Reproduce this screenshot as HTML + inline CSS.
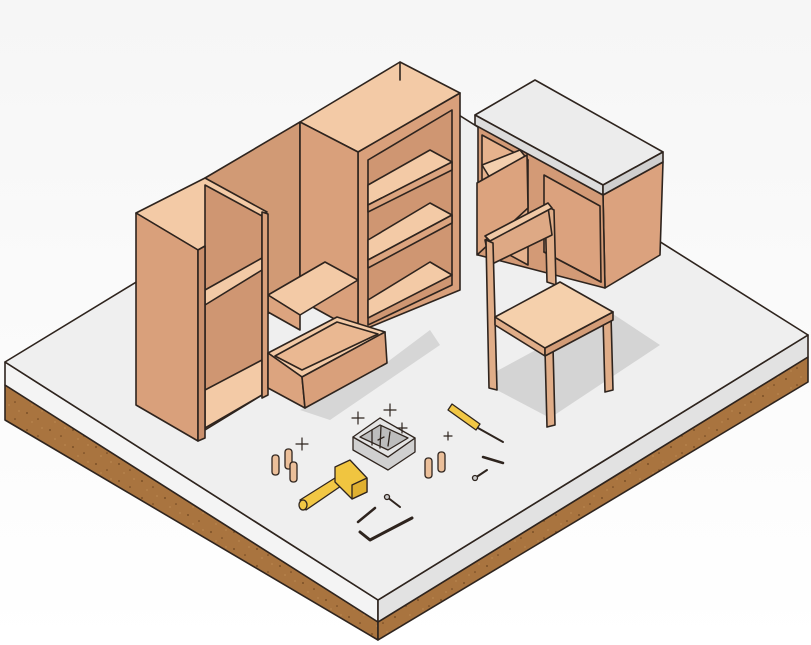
<!DOCTYPE html>
<html><head><meta charset="utf-8"><style>
html,body{margin:0;padding:0;background:#fff;}
svg{display:block}
</style></head><body>
<svg width="811" height="645" viewBox="0 0 811 645" xmlns="http://www.w3.org/2000/svg" stroke="#2e241e" stroke-width="1.6" stroke-linejoin="round" stroke-linecap="round">
<defs>
<linearGradient id="bg" x1="0" y1="0" x2="0" y2="1"><stop offset="0" stop-color="#f6f6f6"/><stop offset="1" stop-color="#ffffff"/></linearGradient>
<pattern id="dots" width="23" height="17" patternUnits="userSpaceOnUse">
<rect width="23" height="17" fill="#a9743f" stroke="none"/>
<circle cx="4" cy="5" r="0.9" fill="#6e4520" stroke="none"/>
<circle cx="15" cy="11" r="0.8" fill="#6e4520" stroke="none"/>
<circle cx="19" cy="3" r="0.6" fill="#c9975f" stroke="none"/>
<circle cx="9" cy="14" r="0.6" fill="#c9975f" stroke="none"/>
</pattern>
</defs>
<rect width="811" height="645" fill="url(#bg)" stroke="none"/>
<!-- platform -->
<polygon points="5,385 378,622 378,640 5,420" fill="url(#dots)"/>
<polygon points="378,622 808,357 808,382 378,640" fill="url(#dots)"/>
<polygon points="5,362 378,600 378,622 5,385" fill="#f4f4f4"/>
<polygon points="378,600 808,335 808,357 378,622" fill="#e2e2e2"/>
<polygon points="5,362 435,100 808,335 378,600" fill="#efefef"/>
<!-- shadows -->
<polygon points="300,410 386,363 430,330 440,345 330,420" fill="#d6d6d6" stroke="none"/>
<polygon points="495,372 545,345 610,312 660,345 550,418 493,388" fill="#d4d4d4" stroke="none"/>

<!-- desk -->
<polygon points="603,195 663,162 660,255 605,288" fill="#dba27e"/>
<polygon points="478,125 603,195 605,288 478,255" fill="#d39a76"/>
<polygon points="482,135 528,160 528,265 482,240" fill="#e6b28d"/>
<polygon points="482,165 520,150 528,160 490,178" fill="#f3cfae"/>
<polygon points="544,175 600,206 601,282 544,252" fill="#dba27e"/>
<line x1="544" y1="252" x2="601" y2="282"/>
<polygon points="477,183 527,155 528,208 477,255" fill="#dca37e"/>
<polygon points="475,115 535,80 663,152 603,185" fill="#ececec"/>
<polygon points="475,115 603,185 603,195 475,125" fill="#dcdcdc"/>
<polygon points="603,185 663,152 663,162 603,195" fill="#cfcfcf"/>

<!-- chair -->
<polygon points="545,205 554,210 556,285 547,282" fill="#e0ad88"/>
<polygon points="485,240 548,207 552,235 490,265" fill="#dea985"/>
<polygon points="485,236 548,203 552,208 490,241" fill="#f1c9a6"/>
<polygon points="486,240 493,243 497,390 489,388" fill="#e0ad88"/>
<polygon points="545,350 553,347 555,425 547,427" fill="#e0ad88"/>
<polygon points="603,318 611,315 613,390 605,392" fill="#e0ad88"/>
<polygon points="495,317 545,348 545,356 495,325" fill="#e0ad88"/>
<polygon points="545,348 613,312 613,320 545,356" fill="#d39c77"/>
<polygon points="495,317 560,282 613,312 545,348" fill="#f5d0ac"/>

<!-- cabinet: right unit -->
<polygon points="358,152 460,93 460,290 358,332" fill="#d9a07b"/>
<polygon points="300,122 400,62 460,93 358,152" fill="#f3caa6"/>
<polygon points="368,160 452,110 452,285 368,325" fill="#cf9672"/>
<polygon points="368,185 430,150 452,162 368,205" fill="#f3caa6"/>
<polygon points="368,205 452,162 452,170 368,212" fill="#dca47f"/>
<polygon points="368,240 430,203 452,215 368,260" fill="#f3caa6"/>
<polygon points="368,260 452,215 452,223 368,268" fill="#dca47f"/>
<polygon points="368,300 430,262 452,275 368,318" fill="#f3caa6"/>
<line x1="400" y1="62" x2="400" y2="80"/>
<!-- middle section -->
<polygon points="205,178 300,122 300,300 205,340" fill="#d19a75"/>
<polygon points="300,122 358,152 358,332 300,300" fill="#d9a07b"/>
<polygon points="268,295 325,262 358,280 300,315" fill="#f3caa6"/>
<polygon points="268,295 300,315 300,330 268,312" fill="#dca47f"/>
<!-- left unit -->
<polygon points="136,213 205,178 267,212 198,250" fill="#f3caa6"/>
<polygon points="205,185 262,216 262,395 205,430" fill="#cf9672"/>
<polygon points="205,290 262,258 262,270 205,305" fill="#f3caa6"/>
<polygon points="205,390 262,360 262,395 205,428" fill="#f3caa6"/>
<polygon points="262,212 268,214 268,395 262,398" fill="#d9a07b"/>
<polygon points="136,213 198,250 198,441 136,405" fill="#d9a07b"/>
<polygon points="198,250 205,246 205,438 198,441" fill="#c98f6c"/>
<!-- drawer -->
<polygon points="268,353 337,317 385,332 302,377" fill="#f3caa6"/>
<polygon points="275,356 337,322 378,334 302,370" fill="#eab892"/>
<polygon points="268,353 302,377 305,408 268,388" fill="#dca47f"/>
<polygon points="302,377 385,332 387,363 305,408" fill="#d9a07b"/>

<!-- tools -->
<g stroke-width="1.3">
<polygon points="353,437 353,450 388,470 415,452 415,438 388,457" fill="#d0d0d0"/>
<polygon points="353,437 380,418 415,438 388,457" fill="#e4e4e4"/>
<polygon points="360,437 380,425 408,438 388,450" fill="#bdbdbd"/>
<line x1="372" y1="445" x2="372" y2="430"/><line x1="380" y1="448" x2="381" y2="426"/><line x1="388" y1="446" x2="390" y2="432"/><line x1="378" y1="440" x2="384" y2="437"/>
<polygon points="448,410 452,404 480,424 476,430" fill="#f2c744"/>
<line x1="478" y1="428" x2="503" y2="442" stroke-width="2"/>
<polygon points="300,500 335,478 341,486 306,510" fill="#f2c744"/>
<ellipse cx="303" cy="505" rx="4" ry="5" fill="#f2c744"/>
<polygon points="335,467 350,460 367,478 367,492 352,499 335,482" fill="#f0c540"/>
<polygon points="352,485 367,478 367,492 352,499" fill="#e0b030"/>
<rect x="272" y="455" width="7" height="20" rx="3" fill="#ebbf9a"/>
<rect x="285" y="449" width="7" height="20" rx="3" fill="#ebbf9a"/>
<rect x="290" y="462" width="7" height="20" rx="3" fill="#ebbf9a"/>
<rect x="425" y="458" width="7" height="20" rx="3" fill="#ebbf9a"/>
<rect x="438" y="452" width="7" height="20" rx="3" fill="#ebbf9a"/>
<line x1="483" y1="457" x2="503" y2="463" stroke-width="2.5"/>
<line x1="475" y1="478" x2="487" y2="470" stroke-width="2"/><circle cx="475" cy="478" r="2.5" fill="#ccc"/>
<line x1="387" y1="497" x2="400" y2="507" stroke-width="2"/><circle cx="387" cy="497" r="2.5" fill="#ccc"/>
<line x1="358" y1="522" x2="375" y2="508" stroke-width="2.5"/>
<polyline points="360,532 370,540 412,518" fill="none" stroke-width="3"/>
<path d="M358 412 l0 12 M352 418 l12 0 M390 404 l0 12 M384 410 l12 0 M402 423 l0 10 M397 428 l10 0 M302 438 l0 12 M296 444 l12 0 M448 432 l0 8 M444 436 l8 0 M302 440 l0 8" stroke-width="1.2" fill="none"/>
</g>
</svg>
</body></html>
